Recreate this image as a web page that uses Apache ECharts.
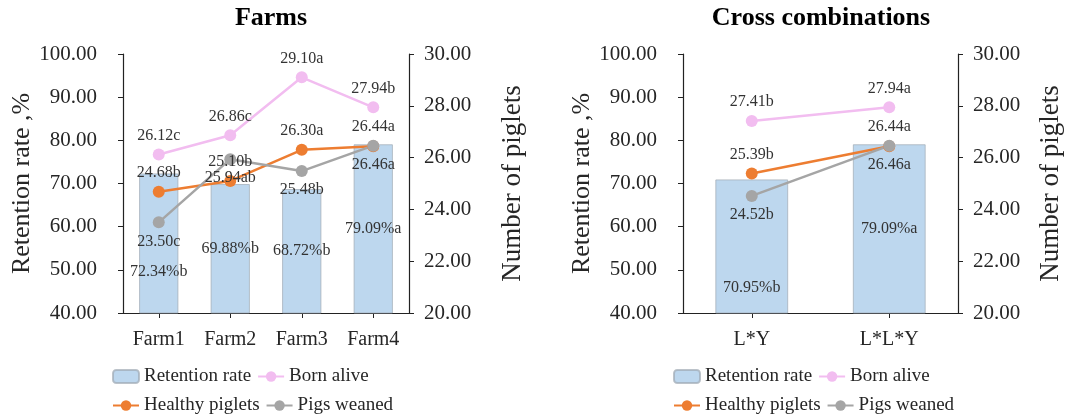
<!DOCTYPE html>
<html>
<head>
<meta charset="utf-8">
<script src="https://cdn.jsdelivr.net/npm/echarts@6/dist/echarts.min.js"></script>
<style>
  html, body { margin: 0; padding: 0; background: #fff; }
  #chart { width: 1086px; height: 419px; }
</style>
</head>
<body>
<div id="chart"></div>
<script>
// farms panel
var farms = ['Farm1', 'Farm2', 'Farm3', 'Farm4'];
var farmRetention = [72.34, 69.88, 68.72, 79.09];
var farmRetentionSig = ['b', 'b', 'b', 'a'];
var farmBornAlive = [26.12, 26.86, 29.10, 27.94];
var farmBornAliveSig = ['c', 'c', 'a', 'b'];
var farmHealthy = [24.68, 25.10, 26.30, 26.44];
var farmHealthySig = ['b', 'b', 'a', 'a'];
var farmWeaned = [23.50, 25.94, 25.48, 26.46];
var farmWeanedSig = ['c', 'ab', 'b', 'a'];

// cross combinations panel
var crosses = ['L*Y', 'L*L*Y'];
var crossRetention = [70.95, 79.09];
var crossRetentionSig = ['b', 'a'];
var crossBornAlive = [27.41, 27.94];
var crossBornAliveSig = ['b', 'a'];
var crossHealthy = [25.39, 26.44];
var crossHealthySig = ['b', 'a'];
var crossWeaned = [24.52, 26.46];
var crossWeanedSig = ['b', 'a'];

var FONT = '"Liberation Serif", "Times New Roman", serif';
var INK = '#262626';

var chart = echarts.init(document.getElementById('chart'));

function yLeft(gridIndex, gap) {
  return {
    type: 'value', gridIndex: gridIndex,
    min: 40, max: 100, interval: 10,
    name: 'Retention rate ,%', nameLocation: 'middle', nameRotate: 90, nameGap: gap,
    nameTextStyle: { fontFamily: FONT, fontSize: 26, color: INK },
    axisLine: { show: true, lineStyle: { color: '#222', width: 1.2 } },
    axisTick: { show: true, length: 5, lineStyle: { color: '#222' } },
    axisLabel: { margin: 26, fontFamily: FONT, fontSize: 21, color: INK,
      formatter: function (v) { return v.toFixed(2) } },
    splitLine: { show: false }
  }
}

function yRight(gridIndex, gap) {
  return {
    type: 'value', gridIndex: gridIndex, position: 'right',
    min: 20, max: 30, interval: 2,
    name: 'Number of piglets', nameLocation: 'middle', nameRotate: 90, nameGap: gap,
    nameTextStyle: { fontFamily: FONT, fontSize: 27, color: INK },
    axisLine: { show: true, lineStyle: { color: '#222', width: 1.2 } },
    axisTick: { show: true, length: 5, lineStyle: { color: '#222' } },
    axisLabel: { margin: 15, fontFamily: FONT, fontSize: 21, color: INK,
      formatter: function (v) { return v.toFixed(2) } },
    splitLine: { show: false }
  }
}

function xAxis(gridIndex, cats) {
  return {
    type: 'category', gridIndex: gridIndex, data: cats,
    axisLine: { lineStyle: { color: '#222', width: 1.2 } },
    axisTick: { show: true, alignWithLabel: true, length: 5, lineStyle: { color: '#222' } },
    axisLabel: { margin: 17, fontFamily: FONT, fontSize: 20, color: INK }
  }
}

function sigLabel(sig, pos, suffix) {
  return {
    show: true, position: pos, distance: 5,
    fontFamily: FONT, fontSize: 16, color: '#333',
    formatter: function (p) { return p.value.toFixed(2) + (suffix || '') + sig[p.dataIndex] }
  }
}

function barSeries(idx, values, sig, shifts, width) {
  return {
    name: 'Retention rate', type: 'bar', xAxisIndex: idx, yAxisIndex: idx * 2,
    barWidth: width,
    data: values.map(function (v, i) {
      return { value: v, label: { offset: [0, shifts[i]] } }
    }),
    itemStyle: { color: '#BDD7EE', borderColor: 'rgba(160,170,180,0.7)', borderWidth: 1 },
    label: sigLabel(sig, 'inside', '%'),
    z: 1
  }
}

function lineSeries(idx, name, values, sig, color, fill, pos) {
  return {
    name: name, type: 'line', xAxisIndex: idx, yAxisIndex: idx * 2 + 1,
    data: values,
    symbol: 'circle', symbolSize: 12,
    lineStyle: { color: color, width: 2.5 },
    itemStyle: { color: fill },
    label: sigLabel(sig, pos),
    z: 3
  }
}

function legend(left, top, names) {
  return {
    left: left, top: top, padding: 0, itemGap: 6, itemWidth: 26, itemHeight: 13,
    data: names,
    textStyle: { fontFamily: FONT, fontSize: 19, color: INK }
  }
}

var PINK = '#F2BDF0', ORANGE = '#ED7D31', GREY = '#A5A5A5';

chart.setOption({
  animation: false,
  title: [
    { text: 'Farms', left: 266, top: 0, textAlign: 'center',
      textStyle: { fontFamily: FONT, fontSize: 26, fontWeight: 'bold', color: '#000' } },
    { text: 'Cross combinations', left: 816, top: 0, textAlign: 'center',
      textStyle: { fontFamily: FONT, fontSize: 26, fontWeight: 'bold', color: '#000' } }
  ],
  grid: [
    { left: 123, top: 54, width: 286, height: 259 },
    { left: 683, top: 54, width: 275, height: 259 }
  ],
  xAxis: [xAxis(0, farms), xAxis(1, crosses)],
  yAxis: [yLeft(0, 85), yRight(0, 90), yLeft(1, 86), yRight(1, 79)],
  legend: [
    legend(112, 367, ['Retention rate', 'Born alive']),
    legend(112, 396, ['Healthy piglets', 'Pigs weaned']),
    legend(673, 367, ['Retention rate', 'Born alive']),
    legend(673, 396, ['Healthy piglets', 'Pigs weaned'])
  ],
  series: [
    barSeries(0, farmRetention, farmRetentionSig, [28, 0, 0, 0], '55%'),
    lineSeries(0, 'Born alive', farmBornAlive, farmBornAliveSig, PINK, PINK, 'top'),
    lineSeries(0, 'Healthy piglets', farmHealthy, farmHealthySig, ORANGE, ORANGE, 'top'),
    lineSeries(0, 'Pigs weaned', farmWeaned, farmWeanedSig, GREY, GREY, 'bottom'),
    barSeries(1, crossRetention, crossRetentionSig, [41, 0], '53%'),
    lineSeries(1, 'Born alive', crossBornAlive, crossBornAliveSig, PINK, PINK, 'top'),
    lineSeries(1, 'Healthy piglets', crossHealthy, crossHealthySig, ORANGE, ORANGE, 'top'),
    lineSeries(1, 'Pigs weaned', crossWeaned, crossWeanedSig, GREY, GREY, 'bottom')
  ]
})
</script>
</body>
</html>
